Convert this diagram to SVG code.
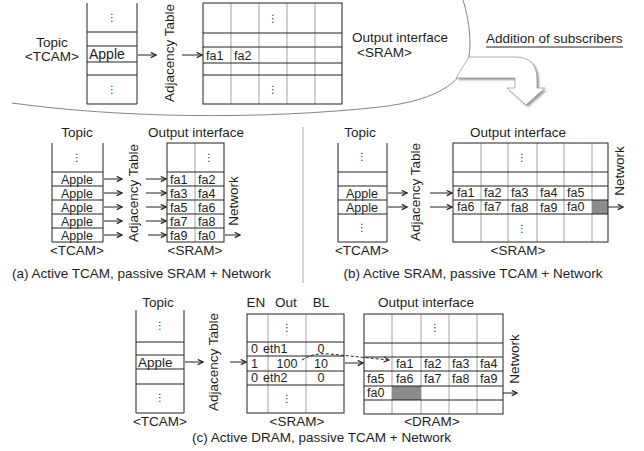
<svg xmlns="http://www.w3.org/2000/svg" width="644" height="451" viewBox="0 0 644 451">
<style>
text{font-family:"Liberation Sans",Arial,sans-serif;fill:#1e1e1e;font-size:13.5px}
.c{font-size:12.5px}
.ap{font-size:12.5px}
.m{text-anchor:middle}
.dots{font-family:"DejaVu Sans",sans-serif;font-size:10px;text-anchor:middle}
.b{fill:none;stroke:#222;stroke-width:1}
.h{stroke:#222;stroke-width:1}
.g{stroke:#8a8a8a;stroke-width:0.8}
.arr{stroke:#222;stroke-width:1;fill:none;marker-end:url(#ah)}
.gray{fill:#8c8c8c}
</style>
<defs>
<marker id="ah" viewBox="0 0 8 8" refX="7" refY="4" markerWidth="7" markerHeight="7" markerUnits="userSpaceOnUse" orient="auto">
<path d="M1,1 L7,4 L1,7" fill="none" stroke="#222" stroke-width="1.3"/>
</marker>
<filter id="sh" x="-20%" y="-20%" width="140%" height="140%"><feGaussianBlur stdDeviation="1.2"/></filter>
</defs>

<!-- swoosh boundary and big arrow -->
<g id="boundary">
<path d="M12,103 C120,118 260,120 380,107 C440,100 470,80 470,45 C470,25 466,10 463,0" fill="none" stroke="#777" stroke-width="0.9"/>
<line x1="303" y1="127" x2="303" y2="283" stroke="#aaa" stroke-width="1"/>
</g>
<g id="addition-arrow">
<path d="M470,59 L517,59 Q539,59 539,81 L539,90 L547,90 L528,107 L509,90 L517,90 L517,80 L458,80 Z" fill="#999" filter="url(#sh)"/>
<path d="M469,57 L515,57 Q537,57 537,79 L537,88 L545,88 L526,105 L507,88 L515,88 L515,78 L456,78 Z" fill="#fff" stroke="#9a9a9a" stroke-width="0.8"/>
<text x="486" y="43">Addition of subscribers</text>
<line x1="486" y1="47" x2="623" y2="47" stroke="#222" stroke-width="1"/>
</g>

<!-- TOP -->
<g id="top-tcam">
<text class="m" x="52" y="47">Topic</text>
<text class="m" x="52" y="61">&lt;TCAM&gt;</text>
<path class="b" d="M87,3 V104 H137 V3"/>
<line class="h" x1="87" y1="32" x2="137" y2="32"/>
<line class="h" x1="87" y1="46" x2="137" y2="46"/>
<line class="h" x1="87" y1="62" x2="137" y2="62"/>
<line class="h" x1="87" y1="75" x2="137" y2="75"/>
<text class="dots" x="112" y="21">⋮</text>
<text class="dots" x="112" y="93">⋮</text>
<text x="89" y="59" style="font-size:14px">Apple</text>
</g>
<g id="top-adjacency">
<text class="m" transform="translate(174,53) rotate(-90)">Adjacency Table</text>
</g>
<g id="top-sram">
<line class="g" x1="231" y1="3" x2="231" y2="104"/>
<line class="g" x1="259" y1="3" x2="259" y2="104"/>
<line class="g" x1="287" y1="3" x2="287" y2="104"/>
<line class="g" x1="315" y1="3" x2="315" y2="104"/>
<line class="h" x1="203" y1="33" x2="342" y2="33"/>
<line class="h" x1="203" y1="47" x2="342" y2="47"/>
<line class="h" x1="203" y1="63" x2="342" y2="63"/>
<line class="h" x1="203" y1="75" x2="342" y2="75"/>
<rect class="b" x="203" y="3" width="139" height="101"/>
<text class="dots" x="273" y="22">⋮</text>
<text class="dots" x="273" y="93">⋮</text>
<text class="c" x="206" y="60">fa1</text>
<text class="c" x="234" y="60">fa2</text>
<text x="352" y="42">Output interface</text>
<text x="357" y="57">&lt;SRAM&gt;</text>
</g>

<!-- (a) -->
<g id="a-tcam">
<text class="m" x="77" y="137">Topic</text>
<path class="b" d="M52,143 V242 H103 V143"/>
<line class="h" x1="52" y1="172" x2="103" y2="172"/>
<line class="h" x1="52" y1="186" x2="103" y2="186"/>
<line class="h" x1="52" y1="200" x2="103" y2="200"/>
<line class="h" x1="52" y1="214" x2="103" y2="214"/>
<line class="h" x1="52" y1="228" x2="103" y2="228"/>
<text class="dots" x="77" y="161">⋮</text>
<text class="m ap" x="77" y="183.5">Apple</text>
<text class="m ap" x="77" y="197.5">Apple</text>
<text class="m ap" x="77" y="211.5">Apple</text>
<text class="m ap" x="77" y="225.5">Apple</text>
<text class="m ap" x="77" y="239.5">Apple</text>
<text class="m" x="77" y="255">&lt;TCAM&gt;</text>
</g>
<g id="a-adjacency">
<text class="m" transform="translate(138,193) rotate(-90)">Adjacency Table</text>
</g>
<g id="a-sram">
<text class="m" x="196" y="137">Output interface</text>
<line class="g" x1="195" y1="143" x2="195" y2="242"/>
<line class="h" x1="167" y1="172" x2="224" y2="172"/>
<line class="h" x1="167" y1="186" x2="224" y2="186"/>
<line class="h" x1="167" y1="200" x2="224" y2="200"/>
<line class="h" x1="167" y1="214" x2="224" y2="214"/>
<line class="h" x1="167" y1="228" x2="224" y2="228"/>
<rect class="b" x="167" y="143" width="57" height="99"/>
<text class="dots" x="209" y="161">⋮</text>
<text class="c" x="170" y="183.5">fa1</text><text class="c" x="198" y="183.5">fa2</text>
<text class="c" x="170" y="197.5">fa3</text><text class="c" x="198" y="197.5">fa4</text>
<text class="c" x="170" y="211.5">fa5</text><text class="c" x="198" y="211.5">fa6</text>
<text class="c" x="170" y="225.5">fa7</text><text class="c" x="198" y="225.5">fa8</text>
<text class="c" x="170" y="239.5">fa9</text><text class="c" x="198" y="239.5">fa0</text>
<text class="m" x="195" y="255">&lt;SRAM&gt;</text>
</g>
<g id="a-network">
<text class="m" transform="translate(238,201) rotate(-90)">Network</text>
</g>
<g id="a-caption"><text x="12" y="278">(a)  Active TCAM, passive SRAM + Network</text></g>

<!-- (b) -->
<g id="b-tcam">
<text class="m" x="360" y="137">Topic</text>
<path class="b" d="M338,143 V242 H387 V143"/>
<line class="h" x1="338" y1="172" x2="387" y2="172"/>
<line class="h" x1="338" y1="186" x2="387" y2="186"/>
<line class="h" x1="338" y1="200" x2="387" y2="200"/>
<line class="h" x1="338" y1="214" x2="387" y2="214"/>
<text class="dots" x="362" y="160">⋮</text>
<text class="dots" x="362" y="231">⋮</text>
<text class="m ap" x="362" y="197.5">Apple</text>
<text class="m ap" x="362" y="211.5">Apple</text>
<text class="m" x="362" y="255">&lt;TCAM&gt;</text>
</g>
<g id="b-adjacency">
<text class="m" transform="translate(420,192) rotate(-90)">Adjacency Table</text>
</g>
<g id="b-sram">
<text class="m" x="518" y="137">Output interface</text>
<rect class="gray" x="592" y="200" width="16" height="14"/>
<line class="g" x1="481" y1="143" x2="481" y2="242"/>
<line class="g" x1="508" y1="143" x2="508" y2="242"/>
<line class="g" x1="537" y1="143" x2="537" y2="242"/>
<line class="g" x1="564" y1="143" x2="564" y2="242"/>
<line class="g" x1="592" y1="143" x2="592" y2="242"/>
<line class="h" x1="453" y1="172" x2="608" y2="172"/>
<line class="h" x1="453" y1="186" x2="608" y2="186"/>
<line class="h" x1="453" y1="200" x2="608" y2="200"/>
<line class="h" x1="453" y1="214" x2="608" y2="214"/>
<rect class="b" x="453" y="143" width="155" height="99"/>
<text class="dots" x="522" y="161">⋮</text>
<text class="dots" x="522" y="232">⋮</text>
<text class="c" x="457" y="197">fa1</text><text class="c" x="484" y="197">fa2</text><text class="c" x="511" y="197">fa3</text><text class="c" x="540" y="197">fa4</text><text class="c" x="567" y="197">fa5</text>
<text class="c" x="457" y="211">fa6</text><text class="c" x="484" y="211">fa7</text><text class="c" x="511" y="211.5">fa8</text><text class="c" x="540" y="211.5">fa9</text><text class="c" x="567" y="211">fa0</text>
<text class="m" x="518" y="255">&lt;SRAM&gt;</text>
</g>
<g id="b-network">
<text class="m" transform="translate(624,171) rotate(-90)">Network</text>
</g>
<g id="b-caption"><text class="m" x="473" y="278">(b) Active SRAM, passive TCAM + Network</text></g>

<!-- (c) -->
<g id="c-tcam">
<text class="m" x="158" y="307">Topic</text>
<path class="b" d="M136,310 V413 H184 V310"/>
<line class="h" x1="136" y1="342" x2="184" y2="342"/>
<line class="h" x1="136" y1="355" x2="184" y2="355"/>
<line class="h" x1="136" y1="369" x2="184" y2="369"/>
<line class="h" x1="136" y1="384" x2="184" y2="384"/>
<text class="dots" x="160" y="329">⋮</text>
<text class="dots" x="160" y="401">⋮</text>
<text x="138" y="367" style="font-size:13.5px">Apple</text>
<text class="m" x="160" y="425.5">&lt;TCAM&gt;</text>
</g>
<g id="c-adjacency">
<text class="m" transform="translate(218,362) rotate(-90)">Adjacency Table</text>
</g>
<g id="c-sram">
<text class="m" x="256" y="307">EN</text>
<text class="m" x="286" y="307">Out</text>
<text class="m" x="321" y="307">BL</text>
<line class="g" x1="268" y1="314" x2="268" y2="413"/>
<line class="g" x1="306" y1="314" x2="306" y2="413"/>
<line class="h" x1="247" y1="342" x2="344" y2="342"/>
<line class="h" x1="247" y1="356" x2="344" y2="356"/>
<line class="h" x1="247" y1="371" x2="344" y2="371"/>
<line class="h" x1="247" y1="385" x2="344" y2="385"/>
<rect class="b" x="247" y="314" width="97" height="99"/>
<text class="dots" x="287" y="331">⋮</text>
<text class="dots" x="287" y="402">⋮</text>
<text class="c" x="251" y="353">0</text><text class="c" x="263" y="353">eth1</text><text class="c m" x="321" y="353">0</text>
<text class="c" x="251" y="368">1</text><text class="c m" x="287" y="368">100</text><text class="c m" x="321" y="368">10</text>
<text class="c" x="251" y="382">0</text><text class="c" x="263" y="382">eth2</text><text class="c m" x="321" y="382">0</text>
<text class="m" x="297" y="425.5">&lt;SRAM&gt;</text>
</g>
<g id="c-dram">
<text class="m" x="426" y="307">Output interface</text>
<rect class="gray" x="392" y="386" width="29" height="14"/>
<line class="g" x1="392" y1="314" x2="392" y2="414"/>
<line class="g" x1="421" y1="314" x2="421" y2="414"/>
<line class="g" x1="449" y1="314" x2="449" y2="414"/>
<line class="g" x1="477" y1="314" x2="477" y2="414"/>
<line class="h" x1="364" y1="343" x2="503" y2="343"/>
<line class="h" x1="364" y1="357" x2="503" y2="357"/>
<line class="h" x1="364" y1="371" x2="503" y2="371"/>
<line class="h" x1="364" y1="386" x2="503" y2="386"/>
<line class="h" x1="364" y1="400" x2="503" y2="400"/>
<rect class="b" x="364" y="314" width="139" height="100"/>
<text class="dots" x="435" y="331">⋮</text>
<text class="c" x="396" y="368">fa1</text><text class="c" x="424" y="368">fa2</text><text class="c" x="452" y="368">fa3</text><text class="c" x="480" y="368">fa4</text>
<text class="c" x="367" y="383">fa5</text><text class="c" x="396" y="383">fa6</text><text class="c" x="424" y="383">fa7</text><text class="c" x="452" y="383">fa8</text><text class="c" x="480" y="383">fa9</text>
<text class="c" x="367" y="397">fa0</text>
<text class="m" x="432" y="425.5">&lt;DRAM&gt;</text>
</g>
<g id="c-network">
<text class="m" transform="translate(519,359) rotate(-90)">Network</text>
</g>
<g id="c-caption"><text x="192" y="442">(c) Active DRAM, passive TCAM + Network</text></g>

<!-- connectors -->
<g id="connectors">
<line class="arr" x1="138" y1="55" x2="156" y2="55"/>
<line class="arr" x1="182" y1="55" x2="202" y2="55"/>
<line class="arr" x1="104" y1="179" x2="122" y2="179"/>
<line class="arr" x1="104" y1="193" x2="122" y2="193"/>
<line class="arr" x1="104" y1="207" x2="122" y2="207"/>
<line class="arr" x1="104" y1="221" x2="122" y2="221"/>
<line class="arr" x1="104" y1="235" x2="122" y2="235"/>
<line class="arr" x1="146" y1="179" x2="166" y2="179"/>
<line class="arr" x1="146" y1="193" x2="166" y2="193"/>
<line class="arr" x1="146" y1="207" x2="166" y2="207"/>
<line class="arr" x1="146" y1="221" x2="166" y2="221"/>
<line class="arr" x1="148" y1="235" x2="166" y2="235"/>
<line class="arr" x1="225" y1="235" x2="240" y2="235"/>
<line class="arr" x1="388" y1="193" x2="407" y2="193"/>
<line class="arr" x1="388" y1="207" x2="407" y2="207"/>
<line class="arr" x1="430" y1="193" x2="452" y2="193"/>
<line class="arr" x1="430" y1="207" x2="452" y2="207"/>
<line class="arr" x1="608" y1="207" x2="623" y2="207"/>
<line class="arr" x1="185" y1="362" x2="203" y2="362"/>
<line class="arr" x1="230" y1="362" x2="246" y2="362"/>
<line class="arr" x1="345" y1="363" x2="363" y2="363"/>
<path class="arr" d="M302,360 C310,355 318,353 330,354 L389,360" stroke-dasharray="3,2" stroke-width="0.8"/>
<line class="arr" x1="503" y1="393" x2="517" y2="393"/>
</g>
</svg>
